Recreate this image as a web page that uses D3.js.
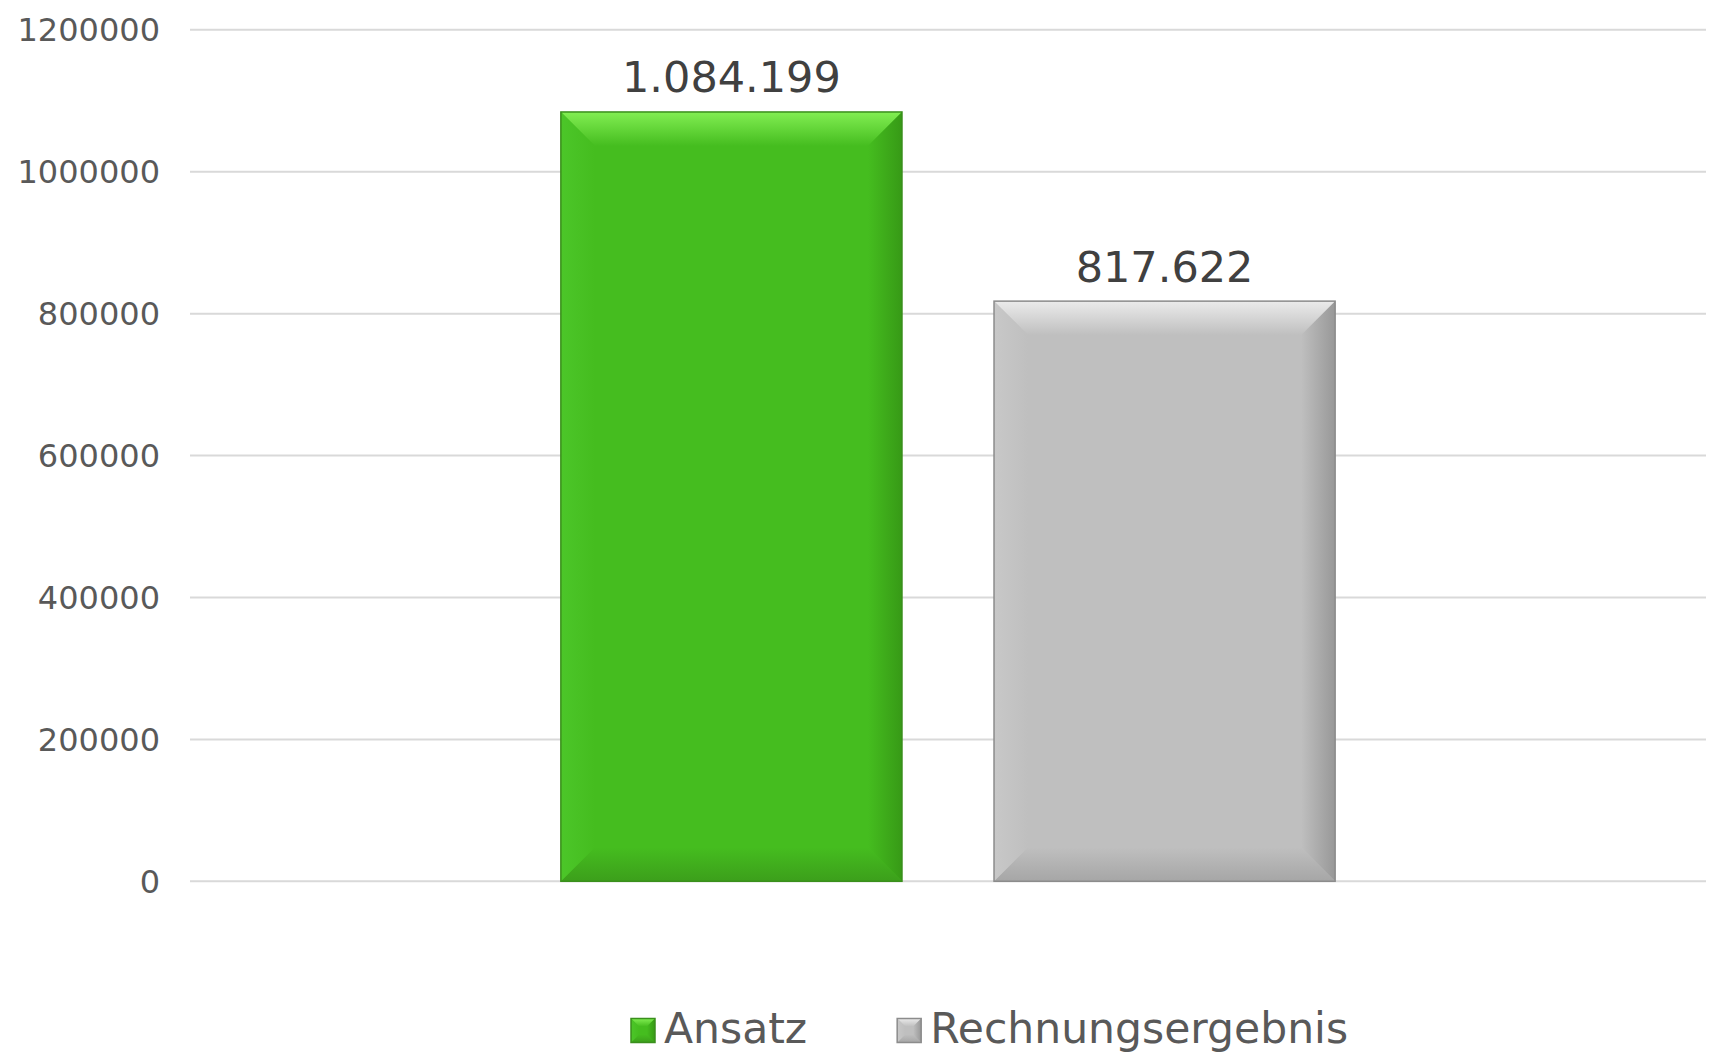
<!DOCTYPE html>
<html lang='de'>
<head>
  <title>Ansatz vs. Rechnungsergebnis</title>
  <script src='https://cdn.jsdelivr.net/npm/d3@7'></script>
  <style>
    body { margin: 0; background: #fff; }
    text { font-family: "DejaVu Sans", Verdana, sans-serif; }
  </style>
</head>
<body>
  <script>
    // data
    const categories = [""];
    const series = ["Ansatz", "Rechnungsergebnis"];
    const values = [1084199, 817622];
    const yTicks = [0, 200000, 400000, 600000, 800000, 1000000, 1200000];

    // colours per series: body, top, left, right, bottom, edge
    const palettes = {
      "Ansatz": { body: "#45bd1f", top: "#82ee52", left: "#4cc629", right: "#379a16", bottom: "#3c9f1b", edge: "#3a8f1c" },
      "Rechnungsergebnis": { body: "#bfbfbf", top: "#ebebeb", left: "#c8c8c8", right: "#989898", bottom: "#a6a6a6", edge: "#8c8c8c" }
    };

    const width = 1718, height = 1052;
    const plot = { left: 190, right: 1706, top: 29.8, bottom: 881.3 };

    const svg = d3.select("body").append("svg")
      .attr("width", width)
      .attr("height", height);

    // gradients for the bevel faces
    const defs = svg.append("defs");
    series.forEach((s, i) => {
      let p = palettes[s];
      let grad = (id, x2, y2, c1, c2) => {
        let g = defs.append("linearGradient").attr("id", id)
          .attr("x1", 0).attr("y1", 0).attr("x2", x2).attr("y2", y2);
        g.append("stop").attr("offset", "0%").attr("stop-color", c1);
        g.append("stop").attr("offset", "100%").attr("stop-color", c2);
      };
      grad("top" + i, 0, 1, p.top, p.body);
      grad("bot" + i, 0, 1, p.body, p.bottom);
      grad("right" + i, 1, 0, p.body, p.right);
      grad("left" + i, 1, 0, p.left, p.body);
    });

    // scales
    const y = d3.scaleLinear().domain([0, 1200000]).range([plot.bottom, plot.top]);
    const x0 = d3.scaleBand().domain(categories).range([plot.left, plot.right])
      .paddingInner(0).paddingOuter(0.479);
    const x1 = d3.scaleBand().domain(series).range([0, x0.bandwidth()])
      .paddingInner(0.2125).paddingOuter(0);

    // gridlines
    svg.append("g").selectAll("line").data(yTicks).join("line")
      .attr("x1", plot.left).attr("x2", plot.right)
      .attr("y1", d => y(d)).attr("y2", d => y(d))
      .attr("stroke", "#d9d9d9").attr("stroke-width", 2);

    // y axis labels
    svg.append("g").selectAll("text").data(yTicks).join("text")
      .attr("x", 160).attr("y", d => y(d))
      .attr("dy", "0.36em")
      .attr("text-anchor", "end")
      .attr("font-size", 32)
      .attr("fill", "#595959")
      .text(d => d);

    // bevelled box
    function bevelBox(g, bx, by, bw, bh, bev, i) {
      let p = palettes[series[i]];
      let x2 = bx + bw, y2 = by + bh;
      g.append("rect").attr("x", bx).attr("y", by).attr("width", bw).attr("height", bh)
        .attr("fill", p.body);
      let poly = (pts, fill) => g.append("polygon")
        .attr("points", pts.map(q => q.join(",")).join(" ")).attr("fill", fill);
      poly([[bx, by], [x2, by], [x2 - bev, by + bev], [bx + bev, by + bev]], `url(#top${i})`);
      poly([[bx, y2], [x2, y2], [x2 - bev, y2 - bev], [bx + bev, y2 - bev]], `url(#bot${i})`);
      poly([[bx, by], [bx + bev, by + bev], [bx + bev, y2 - bev], [bx, y2]], `url(#left${i})`);
      poly([[x2, by], [x2 - bev, by + bev], [x2 - bev, y2 - bev], [x2, y2]], `url(#right${i})`);
      g.append("rect").attr("x", bx).attr("y", by).attr("width", bw).attr("height", bh)
        .attr("fill", "none").attr("stroke", p.edge).attr("stroke-width", 1.5);
    }

    // bars
    const groups = svg.append("g").selectAll("g").data(categories).join("g")
      .attr("transform", d => `translate(${x0(d)},0)`);
    groups.each(function () {
      let g = d3.select(this);
      series.forEach((s, i) => {
        let bx = x1(s), by = y(values[i]);
        bevelBox(g.append("g"), bx, by, x1.bandwidth(), y(0) - by, 34, i);
        g.append("text")
          .attr("x", bx + x1.bandwidth() / 2)
          .attr("y", by - 19.5)
          .attr("text-anchor", "middle")
          .attr("font-size", 43)
          .attr("fill", "#404040")
          .text(d3.format(",")(values[i]).replace(/,/g, "."));
      });
    });

    // legend
    const legend = svg.append("g");
    let lx = 631;
    series.forEach((s, i) => {
      let item = legend.append("g");
      bevelBox(item, lx, 1018.5, 24, 24, 8, i);
      let t = item.append("text")
        .attr("x", lx + 33).attr("y", 1043)
        .attr("font-size", 42.5)
        .attr("fill", "#595959")
        .text(s);
      lx += 33 + t.node().getComputedTextLength() + 90;
    });
  </script>
</body>
</html>
